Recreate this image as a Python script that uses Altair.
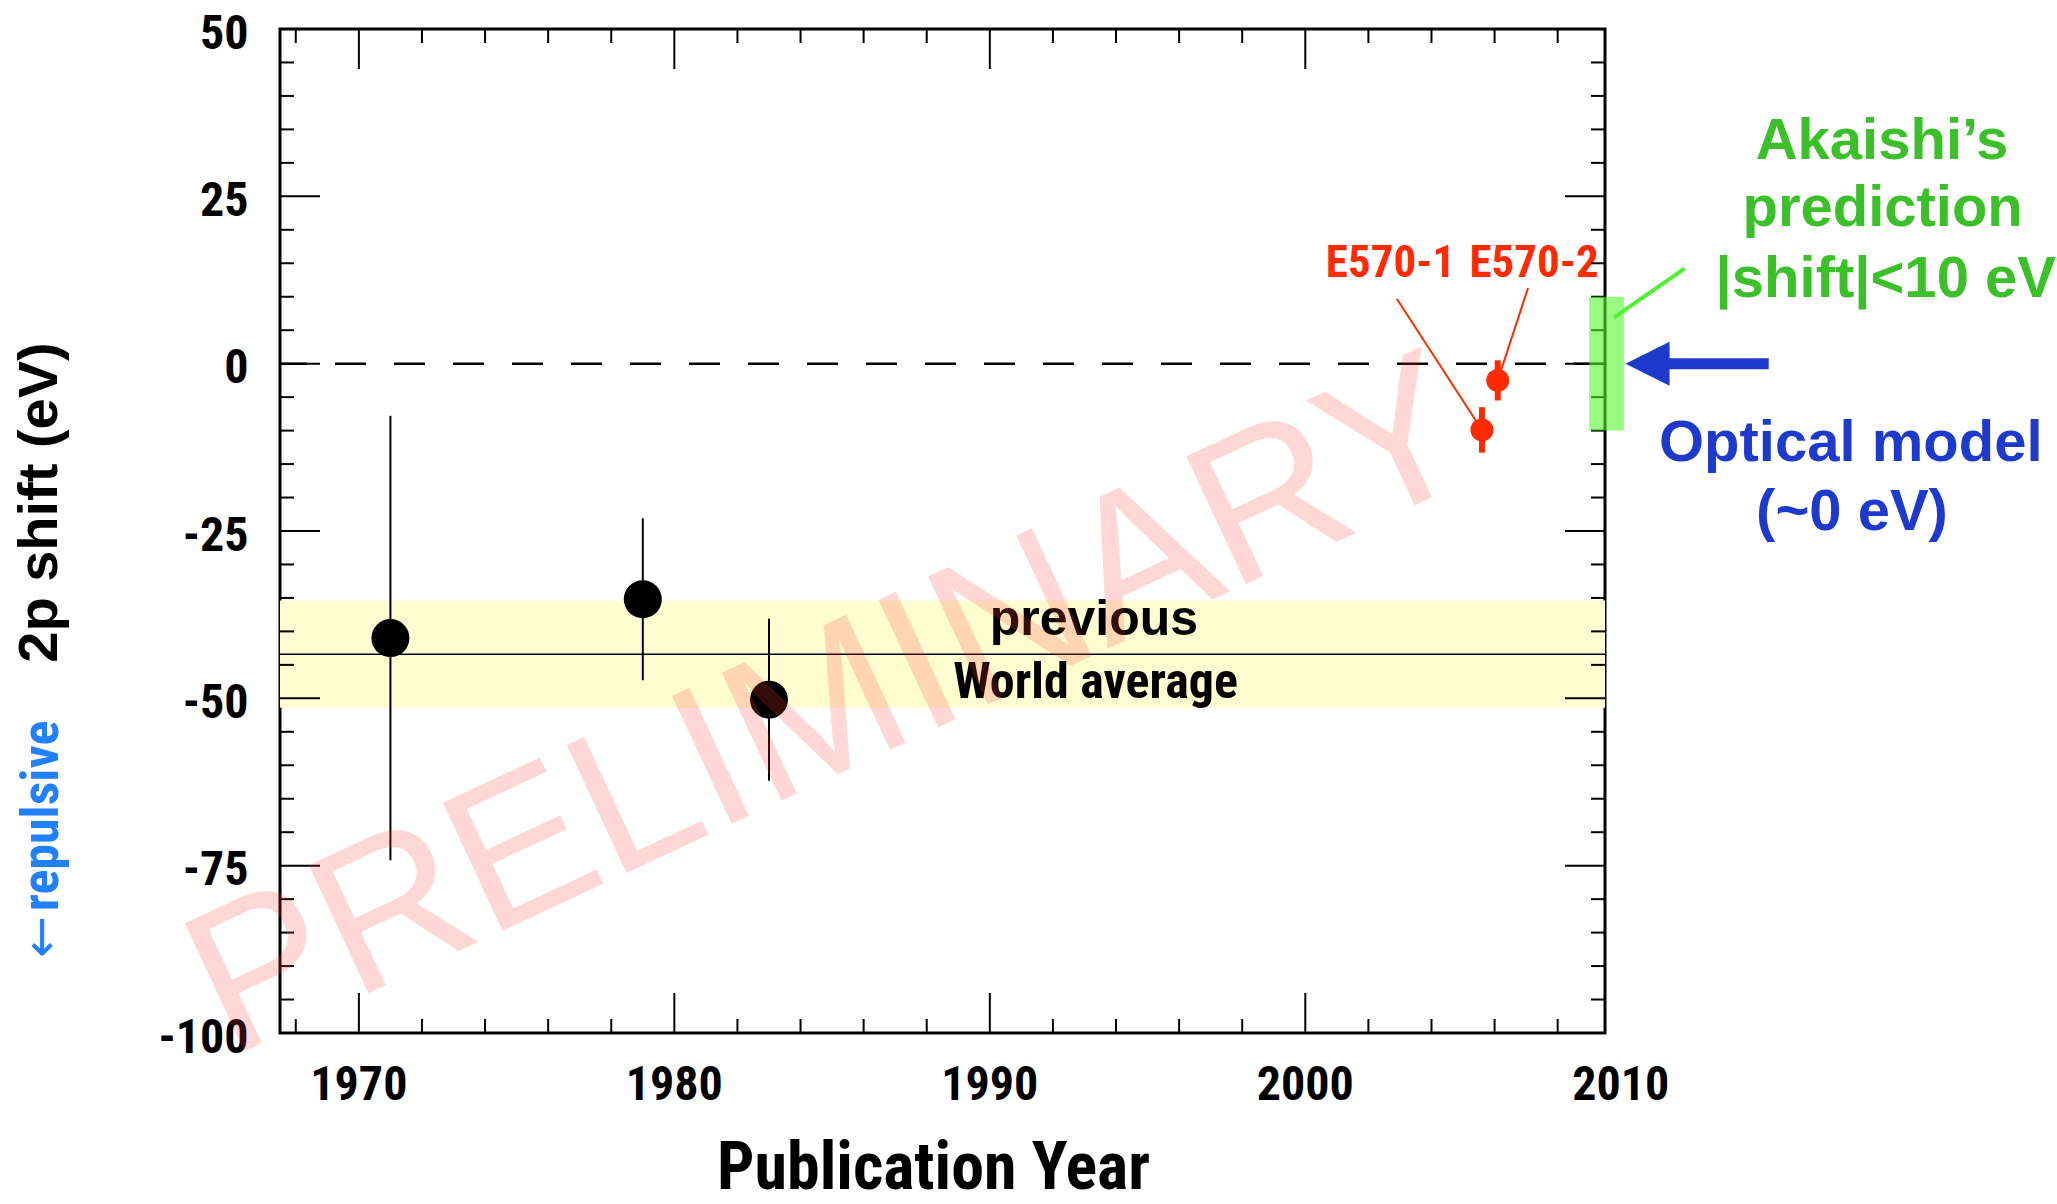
import altair as alt
import pandas as pd

# ---- measurements --------------------------------------------------------
prev_year = [1971, 1979, 1983]
prev_shift = [-41.0, -35.2, -50.2]
prev_err = [33.2, 12.1, 12.1]

e570_name = ["E570-1", "E570-2"]
e570_year = [2005.6, 2006.1]
e570_shift = [-9.9, -2.5]
e570_err = [3.4, 3.0]

world_avg = -43.4
world_avg_err = 8.0

akaishi_bound = 10.0      # |shift| < 10 eV
optical_model = 0.0       # ~0 eV

# ---- axis ticks ----------------------------------------------------------
x_range = [1967.5, 2009.5]
y_range = [-100, 50]
x_major = [1970, 1980, 1990, 2000, 2010]
x_minor = [y for y in range(1968, 2010, 2) if y % 10]
y_major = [-100, -75, -50, -25, 0, 25, 50]
y_minor = [v for v in range(-95, 50, 5) if v % 25]

# ---- styling ---------------------------------------------------------------
W, H = 1325, 1004
NARROW = "Roboto Condensed, Liberation Sans Narrow, Liberation Sans, sans-serif"
SANS = "Liberation Sans, Arial, Helvetica, sans-serif"
RED = "#ff2a00"
GREEN_TXT = "#3cc02a"
BLUE = "#1e3acd"
SKY = "#2080ff"

xs = alt.Scale(domain=x_range, nice=False, zero=False)
ys = alt.Scale(domain=y_range, nice=False, zero=False)

AX_X = alt.Axis(
    title="Publication Year", labels=False, ticks=False, domain=False, grid=False,
    titleFont=NARROW, titleFontSize=66, titleFontWeight="bold", titleColor="black",
    titleX=653, titleY=155, titleAlign="center", titleBaseline="alphabetic")
AX_Y = alt.Axis(
    values=y_major, labelExpr="datum.value + ''", ticks=False, domain=False, grid=False,
    labelFont=NARROW, labelFontSize=48, labelFontWeight="bold", labelColor="black",
    labelPadding=32, labelOffset=5, labelOverlap=False,
    title="2p shift (eV)", titleFont=SANS, titleFontSize=56, titleFontWeight="bold",
    titleColor="black", titleAngle=270, titleX=-224, titleY=473,
    titleAlign="center", titleBaseline="alphabetic")


def X(f):
    return alt.X(f, type="quantitative", scale=xs, axis=AX_X)


def Y(f):
    return alt.Y(f, type="quantitative", scale=ys, axis=AX_Y)


def texts(rows, font, size, color, weight="bold", align="center", angle=0, opacity=1.0):
    df = pd.DataFrame(rows, columns=["t", "x", "y"])
    return alt.Chart(df).mark_text(
        font=font, fontSize=size, fontWeight=weight, color=color, align=align,
        baseline="alphabetic", angle=angle, opacity=opacity,
    ).encode(x=X("x"), y=Y("y"), text="t:N")


prev = pd.DataFrame({"year": prev_year, "shift": prev_shift, "err": prev_err})
prev["lo"] = prev["shift"] - prev["err"]
prev["hi"] = prev["shift"] + prev["err"]

e570 = pd.DataFrame({"name": e570_name, "year": e570_year, "shift": e570_shift, "err": e570_err})
e570["lo"] = e570["shift"] - e570["err"]
e570["hi"] = e570["shift"] + e570["err"]
e570["lx"] = [2002.9, 2007.06]
e570["ly"] = [9.7, 11.3]

avg = pd.DataFrame({"v": [world_avg], "lo": [world_avg - world_avg_err], "hi": [world_avg + world_avg_err]})
zero = pd.DataFrame({"v": [0.0]})

# world-average band and line
band = alt.Chart(avg).mark_rect(color="#fffcd2").encode(
    x=alt.value(0), x2=alt.value(W), y=Y("lo"), y2="hi")
avg_line = alt.Chart(avg).mark_rule(color="black", strokeWidth=1.5).encode(y=Y("v"))
zero_line = alt.Chart(zero).mark_rule(color="black", strokeWidth=2.5, strokeDash=[31, 28]).encode(y=Y("v"))

# previous measurements
prev_bars = alt.Chart(prev).mark_rule(color="black", strokeWidth=2).encode(
    x=X("year"), y=Y("lo"), y2="hi")
prev_pts = alt.Chart(prev).mark_point(filled=True, shape="circle", size=1444, color="black", opacity=1).encode(
    x=X("year"), y=Y("shift"))

# E570 results
e570_leaders = alt.Chart(e570).mark_rule(color=RED, strokeWidth=2).encode(
    x=X("lx"), y=Y("ly"), x2="year", y2="shift")
e570_bars = alt.Chart(e570).mark_rule(color=RED, strokeWidth=6).encode(
    x=X("year"), y=Y("lo"), y2="hi")
e570_pts = alt.Chart(e570).mark_point(filled=True, shape="circle", size=529, color=RED, opacity=1).encode(
    x=X("year"), y=Y("shift"))
e570_txt = texts([["E570-1", 2002.7, 12.9], ["E570-2", 2007.25, 12.9]], NARROW, 45, RED)

avg_txt1 = texts([["previous", 1993.3, -40.5]], SANS, 50, "black")
avg_txt2 = texts([["World average", 1993.35, -50.0]], NARROW, 50, "black")


# inward ticks on all four sides
def tick_df(vals):
    return pd.DataFrame({"v": vals})


x_maj_in = [v for v in x_major if x_range[0] <= v <= x_range[1]]
tick_layers = []
for vals, ln in [(y_major, 40), (y_minor, 14)]:
    tick_layers.append(alt.Chart(tick_df(vals)).mark_rule(color="black", strokeWidth=2).encode(
        y=Y("v"), x=alt.value(0), x2=alt.value(ln)))
    tick_layers.append(alt.Chart(tick_df(vals)).mark_rule(color="black", strokeWidth=2).encode(
        y=Y("v"), x=alt.value(W), x2=alt.value(W - ln)))
for vals, ln in [(x_maj_in, 40), (x_minor, 14)]:
    tick_layers.append(alt.Chart(tick_df(vals)).mark_rule(color="black", strokeWidth=2).encode(
        x=X("v"), y=alt.value(H), y2=alt.value(H - ln)))
    tick_layers.append(alt.Chart(tick_df(vals)).mark_rule(color="black", strokeWidth=2).encode(
        x=X("v"), y=alt.value(0), y2=alt.value(ln)))

x_labels = alt.Chart(pd.DataFrame({"v": x_major, "t": [str(v) for v in x_major]})).mark_text(
    font=NARROW, fontSize=48, fontWeight="bold", color="black", baseline="top", align="center"
).encode(x=X("v"), y=alt.value(H + 29), text="t:N")

# Akaishi's prediction
ak = pd.DataFrame({"x": [2009.0], "x2": [2010.1], "lo": [-akaishi_bound], "hi": [akaishi_bound]})
ak_box = alt.Chart(ak).mark_rect(color="#53f72b", opacity=0.6).encode(
    x=X("x"), x2="x2", y=Y("lo"), y2="hi")
ak_leader = alt.Chart(pd.DataFrame({"x": [2009.79], "y": [6.9], "x2": [2012.03], "y2": [14.25]})).mark_rule(
    color="#50f032", strokeWidth=4).encode(x=X("x"), y=Y("y"), x2="x2", y2="y2")
ak_txt = texts([["Akaishi\u2019s", 2018.28, 30.6], ["prediction", 2018.3, 20.5],
                ["|shift|<10 eV", 2018.4, 10.0]], SANS, 58, GREEN_TXT)

# optical model arrow
opt = pd.DataFrame({"tip": [2010.85], "x1": [2011.4], "x2": [2014.69], "y": [optical_model]})
opt_shaft = alt.Chart(opt).mark_rule(color=BLUE, strokeWidth=11).encode(x=X("x1"), x2="x2", y=Y("y"))
opt_head = alt.Chart(opt).mark_point(shape="M-1,0L1,-1L1,1Z", filled=True, size=1936, color=BLUE, opacity=1).encode(
    x=X("tip"), y=Y("y"))
opt_txt = texts([["Optical model", 2017.29, -14.6], ["(~0 eV)", 2017.33, -24.9]], SANS, 58, BLUE)

# direction hint beside the y title
repulsive = alt.Chart(pd.DataFrame({"t": ["repulsive"]})).mark_text(
    font=NARROW, fontSize=52, fontWeight="bold", color=SKY, angle=270,
    align="center", baseline="alphabetic").encode(
    x=alt.value(-222), y=alt.value(787), text="t:N")
repulsive_arrow = alt.Chart(pd.DataFrame({"t": ["\u2190"]})).mark_text(
    font="DejaVu Sans", fontSize=50, color=SKY, angle=270,
    align="center", baseline="alphabetic").encode(
    x=alt.value(-222), y=alt.value(908), text="t:N")

watermark = texts([["PRELIMINARY", 1985.8, -60.0]], SANS, 205, "#ff3c3c",
                  weight="normal", angle=335, opacity=0.2)

chart = alt.layer(
    band, avg_line, zero_line, prev_bars, prev_pts,
    e570_leaders, e570_bars, e570_pts, e570_txt, avg_txt1, avg_txt2,
    *tick_layers, x_labels, ak_box, ak_leader, ak_txt,
    opt_shaft, opt_head, opt_txt, repulsive, repulsive_arrow, watermark,
).properties(
    width=W, height=H,
    padding={"left": 280, "top": 29, "right": 452, "bottom": 171},
    autosize=alt.AutoSizeParams(type="none"),
    background="white",
).configure_view(stroke="black", strokeWidth=3)

chart.save("out.html", embed_options={"renderer": "svg", "actions": False})
